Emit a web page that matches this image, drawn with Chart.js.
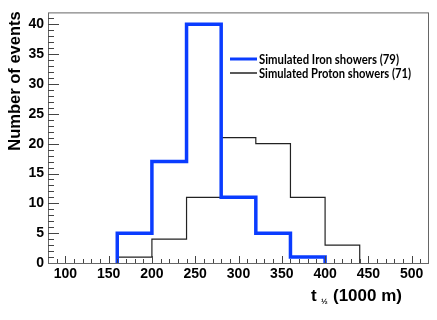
<!DOCTYPE html>
<html>
<head>
<meta charset="utf-8">
<script src="https://cdn.jsdelivr.net/npm/chart.js@4.4.1/dist/chart.umd.min.js"></script>
<style>
  html, body { margin: 0; padding: 0; background: #fff; }
</style>
</head>
<body>
<canvas id="chart" width="437" height="320"></canvas>
<script>
// ====================
// Data
// ====================
// bin edges of t 1/2 (in units of 1000 m)
const binEdges = [160, 200, 240, 280, 320, 360, 400, 440];
const ironCounts = [5, 17, 40, 11, 5, 1];
const protonCounts = [1, 4, 11, 21, 20, 11, 3];
const seriesLabels = ['Simulated Iron showers (79)', 'Simulated Proton showers (71)'];
const seriesColors = ['#0a3cff', '#222222'];
const xTicks = [100, 150, 200, 250, 300, 350, 400, 450, 500];
const yTicks = [0, 5, 10, 15, 20, 25, 30, 35, 40];
const xTitle = ['t', '\u00bd', '(1000 m)'];
const yTitle = 'Number of events';

// turn bin counts into the outline of a histogram
function histPoints(counts) {
  const pts = [{ x: binEdges[0], y: 0 }];
  counts.forEach((c, i) => {
    pts.push({ x: binEdges[i], y: c });
    pts.push({ x: binEdges[i + 1], y: c });
  });
  pts.push({ x: binEdges[counts.length], y: 0 });
  return pts;
}

const boldFont = '"Liberation Sans", Arial, sans-serif';
const legendFont = 'Lato, "Open Sans", sans-serif';

// ROOT-like frame, inside ticks, titles and legend
const rootStyle = {
  id: 'rootStyle',
  afterDatasetsDraw(chart) {
    const { ctx, chartArea: a, scales } = chart;
    const xs = scales.x, ys = scales.y;
    ctx.save();

    // frame
    ctx.strokeStyle = '#666';
    ctx.lineWidth = 1;
    ctx.strokeRect(a.left + 0.5, a.top + 0.5, a.right - a.left - 1, a.bottom - a.top);

    // ticks pointing into the plot
    ctx.strokeStyle = '#444';
    ctx.beginPath();
    for (let v = 90; v <= 510; v += 10) {
      const px = Math.round(xs.getPixelForValue(v)) + 0.5;
      const len = v % 50 === 0 ? 7 : 4;
      ctx.moveTo(px, a.bottom);
      ctx.lineTo(px, a.bottom - len);
    }
    for (let v = 1; v <= 41; v++) {
      const py = Math.round(ys.getPixelForValue(v)) + 0.5;
      const len = v % 5 === 0 ? 11 : 6;
      ctx.moveTo(a.left, py);
      ctx.lineTo(a.left + len, py);
    }
    ctx.stroke();

    // axis titles
    ctx.fillStyle = '#000';
    ctx.textBaseline = 'middle';
    ctx.save();
    ctx.translate(15, 81);
    ctx.rotate(-Math.PI / 2);
    ctx.textAlign = 'center';
    ctx.font = 'bold 16.5px ' + boldFont;
    ctx.fillText(yTitle, 0, 0);
    ctx.restore();

    ctx.textAlign = 'left';
    ctx.textBaseline = 'alphabetic';
    ctx.font = 'bold 17px ' + boldFont;
    ctx.fillText(xTitle[0], 311, 301);
    ctx.font = 'bold 8px ' + boldFont;
    ctx.fillText(xTitle[1], 321, 304);
    ctx.font = 'bold 17px ' + boldFont;
    ctx.fillText(xTitle[2], 333, 301, 71);

    // legend
    const legendY = [59, 73];
    const legendW = [140, 152];
    chart.data.datasets.forEach((ds, i) => {
      ctx.strokeStyle = ds.borderColor;
      ctx.lineWidth = i === 0 ? 3 : 1.5;
      ctx.beginPath();
      ctx.moveTo(230, legendY[i]);
      ctx.lineTo(257, legendY[i]);
      ctx.stroke();
      ctx.fillStyle = '#000';
      ctx.font = 'bold 12.5px ' + legendFont;
      ctx.textBaseline = 'middle';
      ctx.fillText(ds.label, 259, legendY[i] + 1, legendW[i]);
    });
    ctx.restore();
  }
};

new Chart(document.getElementById('chart'), {
  type: 'line',
  data: {
    datasets: [
      {
        label: seriesLabels[0],
        data: histPoints(ironCounts),
        borderColor: seriesColors[0],
        borderWidth: 3.5,
        pointRadius: 0,
        fill: false,
        tension: 0
      },
      {
        label: seriesLabels[1],
        data: histPoints(protonCounts),
        borderColor: seriesColors[1],
        borderWidth: 1.2,
        pointRadius: 0,
        fill: false,
        tension: 0
      }
    ]
  },
  options: {
    responsive: false,
    animation: false,
    layout: { padding: { top: 5, right: 8, left: 0, bottom: 0 } },
    plugins: { legend: { display: false }, tooltip: { enabled: false } },
    scales: {
      x: {
        type: 'linear',
        min: 80,
        max: 520,
        afterBuildTicks: (scale) => { scale.ticks = xTicks.map(v => ({ value: v })); },
        afterFit: (scale) => { scale.height = 57; },
        grid: { display: false, drawTicks: false },
        border: { display: false },
        ticks: {
          padding: 3,
          color: '#000',
          maxRotation: 0,
          autoSkip: false,
          font: { family: boldFont, size: 14, weight: 'bold' }
        }
      },
      y: {
        min: 0,
        max: 42,
        afterBuildTicks: (scale) => { scale.ticks = yTicks.map(v => ({ value: v })); },
        afterFit: (scale) => { scale.width = 48; },
        grid: { display: false, drawTicks: false },
        border: { display: false },
        ticks: {
          padding: 4,
          color: '#000',
          font: { family: boldFont, size: 14, weight: 'bold' }
        }
      }
    }
  },
  plugins: [rootStyle]
});
</script>
</body>
</html>
